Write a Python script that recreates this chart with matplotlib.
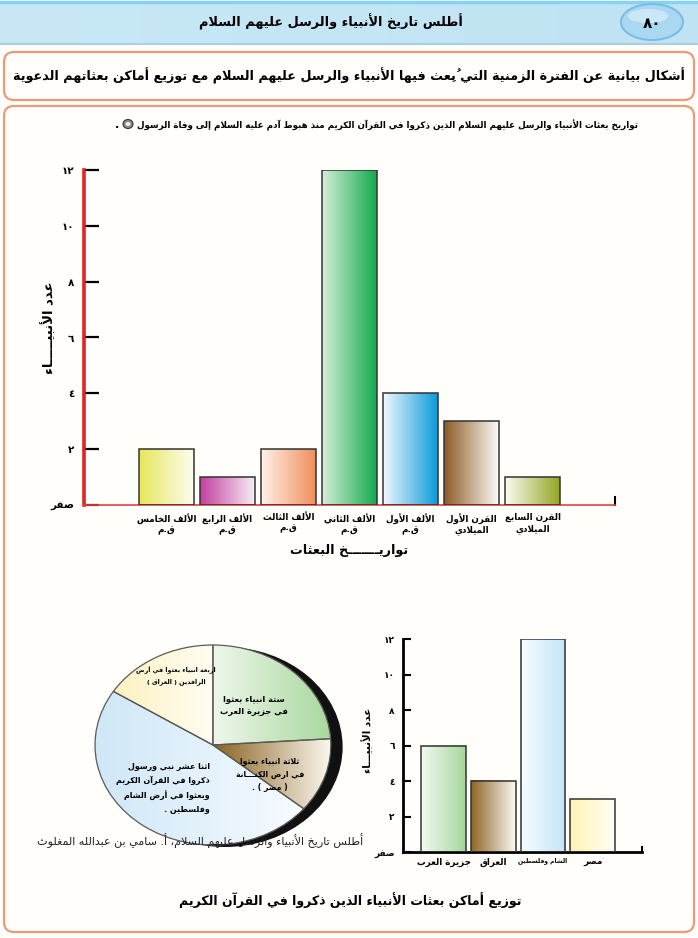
import numpy as np
import matplotlib
matplotlib.use('Agg')
import matplotlib.pyplot as plt
from matplotlib.patches import FancyBboxPatch, Ellipse
from matplotlib.colors import LinearSegmentedColormap

plt.rcParams['font.family'] = ['DejaVu Sans']

# ---- data -------------------------------------------------------------
eras = ['الألف الخامس\nق.م', 'الألف الرابع\nق.م', 'الألف الثالث\nق.م', 'الألف الثاني\nق.م',
        'الألف الأول\nق.م', 'القرن الأول\nالميلادي', 'القرن السابع\nالميلادي']
era_counts = [2, 1, 2, 12, 4, 3, 1]
era_colors = [('#e6e65a', '#fdfdf0'), ('#c23f9e', '#f6eef6'), ('#fff1e8', '#ef8e5a'),
              ('#d6efd8', '#12aa50'), ('#f2f8ff', '#0a9ad8'), ('#8c5c26', '#fdfbf8'),
              ('#fbfbf0', '#95a626')]

places = ['جزيرة العرب', 'العراق', 'الشام وفلسطين', 'مصر']
place_counts = [6, 4, 12, 3]
place_colors = [('#f2f9f1', '#a6d69c'), ('#8e6624', '#fcfaf6'), ('#f8fcff', '#c2e5f8'), ('#fff4b4', '#fffef6')]
place_sizes = [6.3, 6.3, 4.3, 6.3]

pie_labels = ['ستة انبياء بعثوا\nفي جزيرة العرب', 'ثلاثة انبياء بعثوا\nفي ارض الكنـــانة\n( مصر ) .',
              'اثنا عشر نبي ورسول\nذكروا في القرآن الكريم\nوبعثوا في أرض الشام\nوفلسطين .',
              'اربعة انبياء بعثوا في أرض\nالرافدين ( العراق )']
pie_counts = [6, 3, 12, 4]
pie_colors = [('#eef7ea', '#a8d89e'), ('#8a6320', '#fbf7ef'), ('#cfe7f7', '#f7fbff'), ('#fcf1c0', '#fffdf2')]

yticks = [0, 2, 4, 6, 8, 10, 12]
ytick_labels = ['صفر', '٢', '٤', '٦', '٨', '١٠', '١٢']

# ---- minimal arabic shaping (matplotlib has no bidi) -------------------
FORMS = {'ء': (0xFE80, 1), 'آ': (0xFE81, 2), 'أ': (0xFE83, 2), 'ؤ': (0xFE85, 2), 'إ': (0xFE87, 2),
         'ئ': (0xFE89, 4), 'ا': (0xFE8D, 2), 'ب': (0xFE8F, 4), 'ة': (0xFE93, 2), 'ت': (0xFE95, 4),
         'ث': (0xFE99, 4), 'ج': (0xFE9D, 4), 'ح': (0xFEA1, 4), 'خ': (0xFEA5, 4), 'د': (0xFEA9, 2),
         'ذ': (0xFEAB, 2), 'ر': (0xFEAD, 2), 'ز': (0xFEAF, 2), 'س': (0xFEB1, 4), 'ش': (0xFEB5, 4),
         'ص': (0xFEB9, 4), 'ض': (0xFEBD, 4), 'ط': (0xFEC1, 4), 'ظ': (0xFEC5, 4), 'ع': (0xFEC9, 4),
         'غ': (0xFECD, 4), 'ف': (0xFED1, 4), 'ق': (0xFED5, 4), 'ك': (0xFED9, 4), 'ل': (0xFEDD, 4),
         'م': (0xFEE1, 4), 'ن': (0xFEE5, 4), 'ه': (0xFEE9, 4), 'و': (0xFEED, 2), 'ى': (0xFEEF, 2),
         'ي': (0xFEF1, 4)}
LAMALEF = {'آ': 0xFEF5, 'أ': 0xFEF7, 'إ': 0xFEF9, 'ا': 0xFEFB}
MARKS = set(chr(c) for c in range(0x064B, 0x0653)) | {'\u0670'}
MIRROR = {'(': ')', ')': '('}


def _dual(b):
    return b == 'ـ' or (b in FORMS and FORMS[b][1] == 4)


def _joinable(b):
    return b == 'ـ' or b in FORMS or b.startswith('LA')


def _shape(line):
    cl = []
    for ch in line:
        if ch in MARKS and cl:
            cl[-1][1] += ch
        else:
            cl.append([ch, ''])
    m = []
    i = 0
    while i < len(cl):
        if cl[i][0] == 'ل' and i + 1 < len(cl) and cl[i + 1][0] in LAMALEF:
            m.append(['LA' + cl[i + 1][0], cl[i][1] + cl[i + 1][1]])
            i += 2
        else:
            m.append(cl[i])
            i += 1
    out = []
    for i, (b, mk) in enumerate(m):
        prev = m[i - 1][0] if i > 0 else None
        nxt = m[i + 1][0] if i + 1 < len(m) else None
        jp = prev is not None and _dual(prev) and _joinable(b)
        if b.startswith('LA'):
            out.append(chr(LAMALEF[b[2]] + (1 if jp else 0)) + mk)
        elif b in FORMS:
            start, n = FORMS[b]
            jn = n == 4 and nxt is not None and _joinable(nxt)
            if n == 1:
                k = 0
            elif n == 2:
                k = 1 if jp else 0
            else:
                k = [[0, 2], [1, 3]][jp][jn]
            out.append(chr(start + k) + mk)
        else:
            out.append(MIRROR.get(b, b) + mk)
    return ''.join(out[::-1])


def ar(text):
    if text.isdigit():
        return text
    return '\n'.join(_shape(l) for l in text.split('\n'))


# ---- figure / page ----------------------------------------------------
W, H = 698, 938
fig = plt.figure(figsize=(W / 100, H / 100), dpi=100)
fig.patch.set_facecolor('#fffefa')


def px_axes(x0, y0, x1, y1, **kw):
    return fig.add_axes([x0 / W, 1 - y1 / H, (x1 - x0) / W, (y1 - y0) / H], **kw)


def page_axes():
    a = px_axes(0, 0, W, H)
    a.set_xlim(0, W)
    a.set_ylim(H, 0)
    a.axis('off')
    return a


bg = page_axes()

# header band
band = np.linspace(0, 1, 256).reshape(1, -1)
bg.imshow(band, extent=(0, W, 44, 2), cmap=LinearSegmentedColormap.from_list('h', ['#c8e8f6', '#bfe3f3']),
          aspect='auto', zorder=1)
bg.plot([0, W], [2, 2], color='#86d2f2', lw=2.5, zorder=2)
bg.plot([0, W], [44, 44], color='#a9cfe0', lw=1.5, zorder=2)
bg.add_patch(Ellipse((652, 22), 62, 36, facecolor='#a9d8f0', edgecolor='#78bde3', lw=1.5, zorder=3))
bg.add_patch(Ellipse((648, 16), 40, 14, facecolor='#d2ecf9', edgecolor='none', alpha=0.8, zorder=3))
bg.text(652, 23, '٨٠', fontsize=11, fontweight='bold', ha='center', va='center', zorder=4)
bg.text(331, 22, ar('أطلس تاريخ الأنبياء والرسل عليهم السلام'), fontsize=9.3, fontweight='bold',
        ha='center', va='center', zorder=4)

# boxes
for y0, y1 in [(52, 100), (106, 932)]:
    bg.add_patch(FancyBboxPatch((4, y0), 690, y1 - y0, boxstyle='round,pad=0,rounding_size=10',
                                facecolor='#fffefa', edgecolor='#ec9a7c', lw=1.6, zorder=1))
bg.text(349, 76, ar('أشكال بيانية عن الفترة الزمنية التي بُعِث فيها الأنبياء والرسل عليهم السلام مع توزيع أماكن بعثاتهم الدعوية'),
        fontsize=9.2, fontweight='bold', ha='center', va='center', zorder=4)

# chart title; the honorific sign has no installed glyph, so it is drawn as a small emblem
title = bg.text(638, 125, ar('تواريخ بعثات الأنبياء والرسل عليهم السلام الذين ذكروا في القرآن الكريم منذ هبوط آدم عليه السلام إلى وفاة الرسول'),
                fontsize=6.3, fontweight='bold', ha='right', va='center', zorder=4)
tx0 = title.get_window_extent(renderer=fig.canvas.get_renderer()).x0 * W / fig.bbox.width
bg.add_patch(Ellipse((tx0 - 9, 124), 10, 9, facecolor='#8a8a8a', edgecolor='#333333', lw=0.8, zorder=4))
bg.add_patch(Ellipse((tx0 - 9, 124), 5, 4, facecolor='#eeeeee', edgecolor='none', zorder=5))
bg.text(tx0 - 20, 125, '.', fontsize=8, fontweight='bold', ha='center', va='center', zorder=4)

bg.text(350, 900, ar('توزيع أماكن بعثات الأنبياء الذين ذكروا في القرآن الكريم'),
        fontsize=9, fontweight='bold', ha='center', va='center', zorder=4)


def gradient_bars(ax, counts, colors, width):
    bars = ax.bar(range(len(counts)), counts, width=width, facecolor='none', edgecolor='#333333',
                  linewidth=1.1, zorder=3)
    for b, (c0, c1) in zip(bars, colors):
        cmap = LinearSegmentedColormap.from_list('g', [c0, c1])
        x0, w, h = b.get_x(), b.get_width(), b.get_height()
        ax.imshow(band, extent=(x0, x0 + w, 0, h), cmap=cmap, aspect='auto', zorder=2)
    return bars


# ---- top chart --------------------------------------------------------
ax1 = px_axes(84, 170, 615, 505)
ax1.patch.set_alpha(0)
gradient_bars(ax1, era_counts, era_colors, 0.9)
ax1.set_xlim(-1.352, 7.352)
ax1.set_ylim(0, 12)
ax1.spines['top'].set_visible(False)
ax1.spines['left'].set_color('#e02424')
ax1.spines['left'].set_linewidth(2.6)
ax1.spines['bottom'].set_color('#e84040')
ax1.spines['bottom'].set_linewidth(1.2)
ax1.spines['right'].set_bounds(0, 0.3)
ax1.spines['right'].set_linewidth(1.5)
ax1.set_yticks(yticks, labels=[ar(t) for t in ytick_labels])
ax1.tick_params(axis='y', direction='in', length=11, width=1.6, pad=7, labelsize=7.5)
ax1.set_xticks(range(len(eras)), labels=[ar(e) for e in eras])
ax1.tick_params(axis='x', length=0, pad=6, labelsize=6.3)
for t in ax1.get_xticklabels() + ax1.get_yticklabels():
    t.set_fontweight('bold')
ax1.set_xlabel(ar('تواريـــــــخ البعثات'), fontsize=9.2, fontweight='bold')
ax1.xaxis.set_label_coords(0.5, -0.115)
ax1.set_ylabel(ar('عدد الأنبيـــــاء'), fontsize=9.5, fontweight='bold')
ax1.yaxis.set_label_coords(-0.052, 0.53)

# ---- bottom bar chart -------------------------------------------------
ax2 = px_axes(403, 639, 642, 852)
ax2.patch.set_alpha(0)
gradient_bars(ax2, place_counts, place_colors, 0.9)
ax2.set_xlim(-0.815, 3.994)
ax2.set_ylim(0, 12)
ax2.spines['top'].set_visible(False)
ax2.spines['left'].set_linewidth(2)
ax2.spines['bottom'].set_linewidth(2)
ax2.spines['right'].set_bounds(0, 0.3)
ax2.spines['right'].set_linewidth(1.5)
ax2.set_yticks(yticks, labels=[ar(t) for t in ytick_labels])
ax2.tick_params(axis='y', direction='in', length=5.5, width=1.5, pad=6, labelsize=6.5)
ax2.set_xticks(range(len(places)), labels=[ar(p) for p in places])
ax2.tick_params(axis='x', length=0, pad=4)
for t, s in zip(ax2.get_xticklabels(), place_sizes):
    t.set_fontsize(s)
for t in ax2.get_xticklabels() + ax2.get_yticklabels():
    t.set_fontweight('bold')
ax2.set_ylabel(ar('عدد الأنبيـــاء'), fontsize=7.5, fontweight='bold')
ax2.yaxis.set_label_coords(-0.125, 0.526)

# ---- pie ---------------------------------------------------------------
ax3 = px_axes(95, 643, 345, 847)
ax3.patch.set_alpha(0)
ax3.add_patch(Ellipse((0.1, -0.02), 2, 2.0, facecolor='#111111', edgecolor='none', zorder=0))
wedges, _ = ax3.pie(pie_counts, startangle=90, counterclock=False, radius=1,
                    wedgeprops=dict(edgecolor='#5a5a5a', linewidth=0.9, facecolor='none'))
for w, (c0, c1) in zip(wedges, pie_colors):
    w.set_zorder(3)
    bb = w.get_path().get_extents()
    im = ax3.imshow(band, extent=(bb.x0, bb.x1, bb.y0, bb.y1), aspect='auto', zorder=2,
                    cmap=LinearSegmentedColormap.from_list('p', [c0, c1]))
    im.set_clip_path(w)
ax3.set_aspect('auto')
ax3.set_xlim(-1.0, 1.12)
ax3.set_ylim(-1.02, 1.02)
ax3.axis('off')

# labels drawn above the pie
fg = page_axes()
fg.text(254, 705, ar(pie_labels[0]), fontsize=6.0, fontweight='bold', ha='center', va='center',
        linespacing=1.6)
fg.text(270, 774, ar(pie_labels[1]), fontsize=5.6, fontweight='bold', ha='center', va='center',
        linespacing=1.7)
fg.text(210, 788, ar(pie_labels[2]), fontsize=5.8, fontweight='bold', ha='right', va='center',
        multialignment='right', linespacing=1.65)
fg.text(176, 676, ar(pie_labels[3]), fontsize=4.6, fontweight='bold', ha='center', va='center',
        linespacing=1.9)
fg.text(363, 841, ar('أطلس تاريخ الأنبياء والرسل عليهم السلام، أ. سامي بن عبدالله المغلوث'),
        fontsize=8, ha='right', va='center', color='#222222')

fig.savefig('out.png', dpi=100, facecolor=fig.get_facecolor())
